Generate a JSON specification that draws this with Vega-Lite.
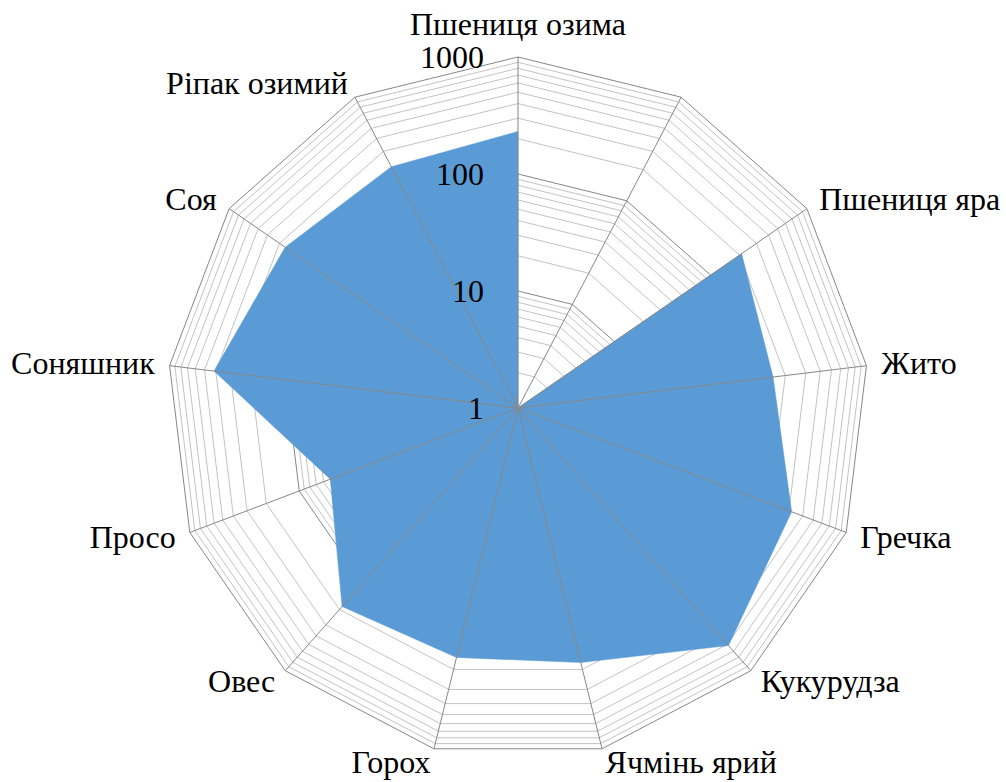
{
  "$schema": "https://vega.github.io/schema/vega-lite/v6.json",
  "width": 1006,
  "height": 782,
  "autosize": {"type": "none"},
  "padding": 0,
  "config": {"view": {"stroke": null}},
  "datasets": {
    "crops": [
      {"crop": "Пшениця озима", "i": 0, "v": 231},
      {"crop": "", "i": 1, "v": 1},
      {"crop": "Пшениця яра", "i": 2, "v": 210},
      {"crop": "Жито", "i": 3, "v": 157},
      {"crop": "Гречка", "i": 4, "v": 317},
      {"crop": "Кукурудза", "i": 5, "v": 516},
      {"crop": "Ячмінь ярий", "i": 6, "v": 174},
      {"crop": "Горох", "i": 7, "v": 157},
      {"crop": "Овес", "i": 8, "v": 185},
      {"crop": "Просо", "i": 9, "v": 52},
      {"crop": "Соняшник", "i": 10, "v": 414},
      {"crop": "Соя", "i": 11, "v": 262},
      {"crop": "Ріпак озимий", "i": 12, "v": 213}
    ],
    "rings": [
      {"v": 2, "k": [0,1,2,3,4,5,6,7,8,9,10,11,12]},
      {"v": 3, "k": [0,1,2,3,4,5,6,7,8,9,10,11,12]},
      {"v": 4, "k": [0,1,2,3,4,5,6,7,8,9,10,11,12]},
      {"v": 5, "k": [0,1,2,3,4,5,6,7,8,9,10,11,12]},
      {"v": 6, "k": [0,1,2,3,4,5,6,7,8,9,10,11,12]},
      {"v": 7, "k": [0,1,2,3,4,5,6,7,8,9,10,11,12]},
      {"v": 8, "k": [0,1,2,3,4,5,6,7,8,9,10,11,12]},
      {"v": 9, "k": [0,1,2,3,4,5,6,7,8,9,10,11,12]},
      {"v": 10, "k": [0,1,2,3,4,5,6,7,8,9,10,11,12]},
      {"v": 20, "k": [0,1,2,3,4,5,6,7,8,9,10,11,12]},
      {"v": 30, "k": [0,1,2,3,4,5,6,7,8,9,10,11,12]},
      {"v": 40, "k": [0,1,2,3,4,5,6,7,8,9,10,11,12]},
      {"v": 50, "k": [0,1,2,3,4,5,6,7,8,9,10,11,12]},
      {"v": 60, "k": [0,1,2,3,4,5,6,7,8,9,10,11,12]},
      {"v": 70, "k": [0,1,2,3,4,5,6,7,8,9,10,11,12]},
      {"v": 80, "k": [0,1,2,3,4,5,6,7,8,9,10,11,12]},
      {"v": 90, "k": [0,1,2,3,4,5,6,7,8,9,10,11,12]},
      {"v": 100, "k": [0,1,2,3,4,5,6,7,8,9,10,11,12]},
      {"v": 200, "k": [0,1,2,3,4,5,6,7,8,9,10,11,12]},
      {"v": 300, "k": [0,1,2,3,4,5,6,7,8,9,10,11,12]},
      {"v": 400, "k": [0,1,2,3,4,5,6,7,8,9,10,11,12]},
      {"v": 500, "k": [0,1,2,3,4,5,6,7,8,9,10,11,12]},
      {"v": 600, "k": [0,1,2,3,4,5,6,7,8,9,10,11,12]},
      {"v": 700, "k": [0,1,2,3,4,5,6,7,8,9,10,11,12]},
      {"v": 800, "k": [0,1,2,3,4,5,6,7,8,9,10,11,12]},
      {"v": 900, "k": [0,1,2,3,4,5,6,7,8,9,10,11,12]},
      {"v": 1000, "k": [0,1,2,3,4,5,6,7,8,9,10,11,12]}
    ],
    "ticks": [
      {"label": "1", "v": 1},
      {"label": "10", "v": 10},
      {"label": "100", "v": 100},
      {"label": "1000", "v": 1000}
    ]
  },
  "layer": [
    {
      "data": {"name": "rings"},
      "transform": [
        {"flatten": ["k"]},
        {"filter": "datum.v != 10 && datum.v != 100 && datum.v != 1000"},
        {"calculate": "datum.k * 2 * PI / 13", "as": "a"},
        {"calculate": "log(datum.v) / LN10 * sin(datum.a)", "as": "x"},
        {"calculate": "log(datum.v) / LN10 * cos(datum.a)", "as": "y"}
      ],
      "mark": {"type": "line", "interpolate": "linear-closed", "stroke": "#C3C3C3", "strokeWidth": 1},
      "encoding": {
        "x": {"field": "x", "type": "quantitative", "scale": {"domain": [-4.4274, 4.1709], "nice": false, "zero": false}, "axis": null},
        "y": {"field": "y", "type": "quantitative", "scale": {"domain": [-3.1966, 3.4872], "nice": false, "zero": false}, "axis": null},
        "detail": {"field": "v", "type": "nominal"},
        "order": {"field": "k", "type": "quantitative"}
      }
    },
    {
      "data": {"name": "rings"},
      "transform": [
        {"flatten": ["k"]},
        {"filter": "datum.v == 10 || datum.v == 100 || datum.v == 1000"},
        {"calculate": "datum.k * 2 * PI / 13", "as": "a"},
        {"calculate": "log(datum.v) / LN10 * sin(datum.a)", "as": "x"},
        {"calculate": "log(datum.v) / LN10 * cos(datum.a)", "as": "y"}
      ],
      "mark": {"type": "line", "interpolate": "linear-closed", "stroke": "#878787", "strokeWidth": 1},
      "encoding": {
        "x": {"field": "x", "type": "quantitative", "axis": null},
        "y": {"field": "y", "type": "quantitative", "axis": null},
        "detail": {"field": "v", "type": "nominal"},
        "order": {"field": "k", "type": "quantitative"}
      }
    },
    {
      "data": {"name": "crops"},
      "transform": [
        {"calculate": "datum.i * 2 * PI / 13", "as": "a"},
        {"calculate": "log(datum.v) / LN10 * sin(datum.a)", "as": "x"},
        {"calculate": "log(datum.v) / LN10 * cos(datum.a)", "as": "y"}
      ],
      "mark": {"type": "line", "interpolate": "linear-closed", "fill": "#5B9BD5", "stroke": "#5B9BD5", "strokeWidth": 0.5},
      "encoding": {
        "x": {"field": "x", "type": "quantitative", "axis": null},
        "y": {"field": "y", "type": "quantitative", "axis": null},
        "order": {"field": "i", "type": "quantitative"}
      }
    },
    {
      "data": {"name": "crops"},
      "transform": [
        {"calculate": "datum.i * 2 * PI / 13", "as": "a"},
        {"calculate": "0", "as": "x"},
        {"calculate": "0", "as": "y"},
        {"calculate": "3 * sin(datum.a)", "as": "sx"},
        {"calculate": "3 * cos(datum.a)", "as": "sy"}
      ],
      "mark": {"type": "rule", "stroke": "#878787", "strokeWidth": 1},
      "encoding": {
        "x": {"field": "x", "type": "quantitative", "axis": null},
        "y": {"field": "y", "type": "quantitative", "axis": null},
        "x2": {"field": "sx"},
        "y2": {"field": "sy"}
      }
    },
    {
      "data": {"name": "ticks"},
      "transform": [
        {"calculate": "0", "as": "x"},
        {"calculate": "log(datum.v) / LN10", "as": "y"}
      ],
      "mark": {"type": "text", "align": "right", "baseline": "middle", "dx": -34, "dy": 1, "font": "Liberation Serif", "fontSize": 32, "color": "#000000"},
      "encoding": {
        "x": {"field": "x", "type": "quantitative", "axis": null},
        "y": {"field": "y", "type": "quantitative", "axis": null},
        "text": {"field": "label"}
      }
    },
    {
      "data": {"name": "crops"},
      "transform": [
        {"filter": "datum.i == 0"},
        {"calculate": "datum.i * 2 * PI / 13", "as": "a"},
        {"calculate": "3.128 * sin(datum.a)", "as": "x"},
        {"calculate": "3.128 * cos(datum.a)", "as": "y"}
      ],
      "mark": {"type": "text", "align": "center", "baseline": "bottom", "font": "Liberation Serif", "fontSize": 32, "color": "#000000"},
      "encoding": {
        "x": {"field": "x", "type": "quantitative", "axis": null},
        "y": {"field": "y", "type": "quantitative", "axis": null},
        "text": {"field": "crop"}
      }
    },
    {
      "data": {"name": "crops"},
      "transform": [
        {"filter": "datum.i >= 2 && datum.i <= 6"},
        {"calculate": "datum.i * 2 * PI / 13", "as": "a"},
        {"calculate": "3.128 * sin(datum.a)", "as": "x"},
        {"calculate": "3.128 * cos(datum.a)", "as": "y"}
      ],
      "mark": {"type": "text", "align": "left", "baseline": "middle", "font": "Liberation Serif", "fontSize": 32, "color": "#000000"},
      "encoding": {
        "x": {"field": "x", "type": "quantitative", "axis": null},
        "y": {"field": "y", "type": "quantitative", "axis": null},
        "text": {"field": "crop"}
      }
    },
    {
      "data": {"name": "crops"},
      "transform": [
        {"filter": "datum.i >= 7"},
        {"calculate": "datum.i * 2 * PI / 13", "as": "a"},
        {"calculate": "3.128 * sin(datum.a)", "as": "x"},
        {"calculate": "3.128 * cos(datum.a)", "as": "y"}
      ],
      "mark": {"type": "text", "align": "right", "baseline": "middle", "font": "Liberation Serif", "fontSize": 32, "color": "#000000"},
      "encoding": {
        "x": {"field": "x", "type": "quantitative", "axis": null},
        "y": {"field": "y", "type": "quantitative", "axis": null},
        "text": {"field": "crop"}
      }
    }
  ]
}
